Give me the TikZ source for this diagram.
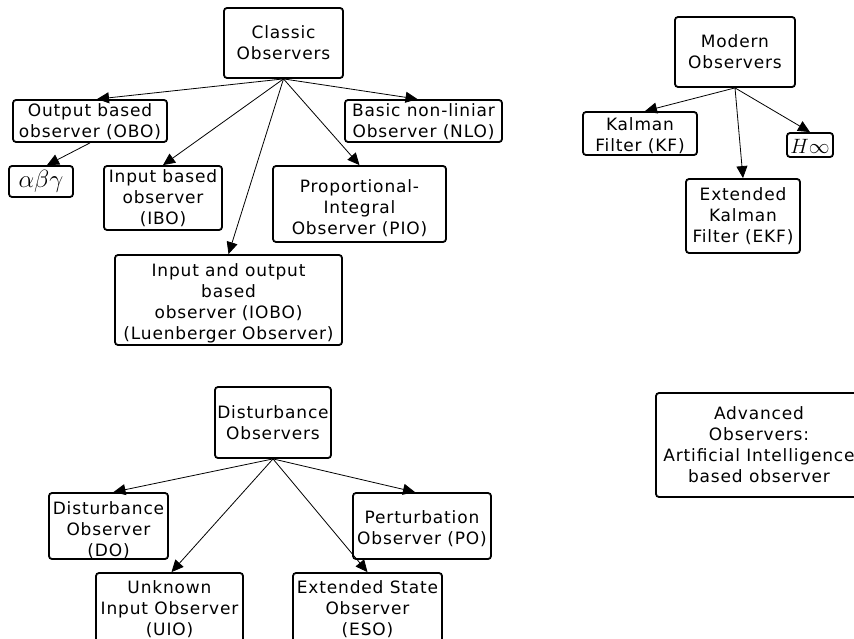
\documentclass[tikz,border=0pt]{standalone}
\usepackage{fontspec}
\usetikzlibrary{arrows.meta}
\newfontfamily\obsfamily[LetterSpace=5]{DejaVu Sans}
\newcommand{\obsfont}{\obsfamily\fontsize{17}{21}\selectfont}
\tikzset{
  obox/.style={draw, line width=1.8pt, rounded corners=3pt, inner sep=0pt},
  lbl/.style={font=\obsfont, align=center, inner sep=0pt},
  arr/.style={-{Triangle[length=12pt,width=11pt]}, line width=0.8pt},
}
\begin{document}
\begin{tikzpicture}[x=1pt,y=-1pt]
\useasboundingbox (0,0) rectangle (854,639);

% --- Classic observers ---
\node[obox, minimum width=119pt, minimum height=70pt] (classic) at (283.5,43) {};
\node[lbl] at (classic) {Classic\\Observers};
\node[obox, minimum width=154pt, minimum height=42pt] (obo) at (90,121) {};
\node[lbl, yshift=-1pt] at (obo) {Output based\\observer (OBO)};
\node[obox, minimum width=64pt, minimum height=31pt] (abg) at (41,181.5) {};
\node[inner sep=0pt, font=\fontsize{24}{26}\selectfont] at (abg) {$\alpha\beta\gamma$};
\node[obox, minimum width=118pt, minimum height=64pt] (ibo) at (163,198) {};
\node[lbl] at (ibo) {Input based\\observer\\(IBO)};
\node[obox, minimum width=173pt, minimum height=76pt] (pio) at (359.5,204) {};
\node[lbl, yshift=-4pt] at (pio) {Proportional-\\Integral\\Observer (PIO)};
\node[obox, minimum width=157pt, minimum height=42pt] (nlo) at (423.5,121) {};
\node[lbl, yshift=-1pt] at (nlo) {Basic non-liniar\\Observer (NLO)};
\node[obox, minimum width=227pt, minimum height=90pt] (iobo) at (228.5,300) {};
\node[lbl, yshift=-3pt] at (iobo) {Input and output\\based\\observer (IOBO)\\(Luenberger Observer)};

\draw[arr] (classic.south) -- ([xshift=7pt]obo.north);
\draw[arr] (classic.south) -- ([xshift=-6pt]nlo.north);
\draw[arr] (classic.south) -- (ibo.north);
\draw[arr] (classic.south) -- (pio.north);
\draw[arr] (classic.south) -- (iobo.north);
\draw[arr] (obo.south) -- ([xshift=6pt]abg.north);

% --- Modern observers ---
\node[obox, minimum width=120pt, minimum height=70pt] (modern) at (735,52) {};
\node[lbl] at (modern) {Modern\\Observers};
\node[obox, minimum width=114pt, minimum height=43pt] (kf) at (640,133.5) {};
\node[lbl, yshift=-2pt] at (kf) {Kalman\\Filter (KF)};
\node[obox, minimum width=46pt, minimum height=24pt] (hinf) at (810,145) {};
\node[inner sep=0pt, font=\fontsize{21}{23}\selectfont, yshift=-1pt] at (hinf) {$H\infty$};
\node[obox, minimum width=114pt, minimum height=74pt] (ekf) at (743,216) {};
\node[lbl] at (ekf) {Extended\\Kalman\\Filter (EKF)};

\draw[arr] (modern.south) -- ([xshift=5pt]kf.north);
\draw[arr] (modern.south) -- (hinf.north);
\draw[arr] (modern.south) -- (ekf.north);

% --- Disturbance observers ---
\node[obox, minimum width=116pt, minimum height=71pt] (dist) at (273,422.5) {};
\node[lbl] at (dist) {Disturbance\\Observers};
\node[obox, minimum width=119pt, minimum height=66pt] (do) at (108.5,526) {};
\node[lbl, yshift=-4pt] at (do) {Disturbance\\Observer\\(DO)};
\node[obox, minimum width=138pt, minimum height=66pt] (po) at (422,526) {};
\node[lbl, yshift=-3pt] at (po) {Perturbation\\Observer (PO)};
\node[obox, minimum width=147pt, minimum height=77pt] (uio) at (169.5,611.5) {};
\node[lbl, yshift=2pt] at (uio) {Unknown\\Input Observer\\(UIO)};
\node[obox, minimum width=149pt, minimum height=77pt] (eso) at (367.5,611.5) {};
\node[lbl, yshift=2pt] at (eso) {Extended State\\Observer\\(ESO)};

\draw[arr] (dist.south) -- ([xshift=5pt]do.north);
\draw[arr] (dist.south) -- ([xshift=2pt]uio.north);
\draw[arr] (dist.south) -- (eso.north);
\draw[arr] (dist.south) -- ([xshift=-7pt]po.north);

% --- Advanced observers ---
\node[obox, minimum width=206pt, minimum height=104pt] (adv) at (759,445) {};
\node[lbl] at (adv) {Advanced\\Observers:\\Artificial Intelligence\\based observer};
\end{tikzpicture}
\end{document}
